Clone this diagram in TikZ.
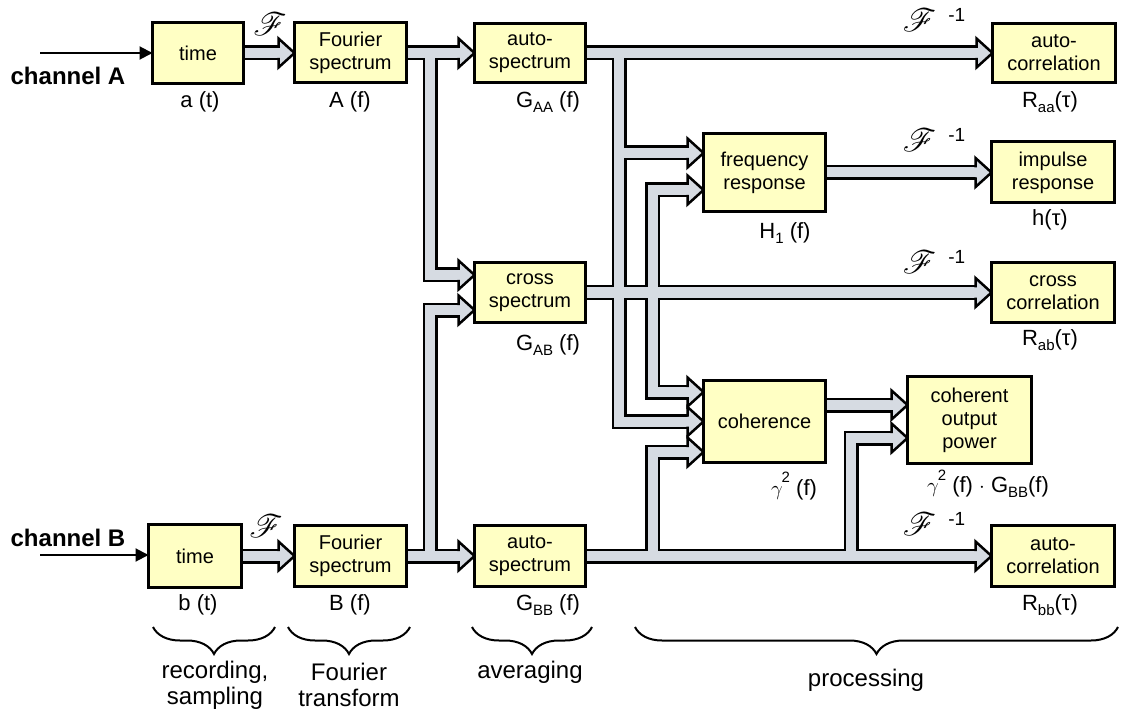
\documentclass[tikz,border=0pt]{standalone}
\usepackage{fontspec}
\setmainfont{Liberation Sans}
\usepackage{mathrsfs}
\usetikzlibrary{arrows.meta,calc,decorations.pathreplacing}
\pgfdeclarelayer{bg}
\pgfsetlayers{bg,main}
\definecolor{boxfill}{RGB}{255,255,196}
\definecolor{pipegray}{RGB}{214,219,226}
\newcommand\fF{\scalebox{1.3}{\ensuremath{\mathscr{F}}}}
\newcommand\subs[1]{\raisebox{-0.22em}{\fontsize{15}{15}\selectfont #1}}
\newcommand\supr[1]{\hspace{-1pt}\raisebox{0.55em}{\fontsize{15}{15}\selectfont #1}}
\newcommand\finv{\fF\hspace{12pt}\raisebox{10pt}{\fontsize{19}{19}\selectfont -1}}
\newcommand\ahead[1]{%
  \fill[pipegray] ($(#1)+(-16,-14.5)$) -- (#1) -- ($(#1)+(-16,14.5)$) -- cycle;
  \draw[line width=2.5pt, line join=miter] ($(#1)+(-16,-5)$) -- ($(#1)+(-16,-14.5)$) -- (#1) -- ($(#1)+(-16,14.5)$) -- ($(#1)+(-16,5)$);
}
\begin{document}
\begin{tikzpicture}[x=1pt,y=-1pt,
  blk/.style={draw, line width=3pt, fill=boxfill, inner sep=0pt, outer sep=0pt, align=center, font=\fontsize{20}{23}\selectfont},
  lbl/.style={inner sep=0pt, font=\fontsize{22}{26}\selectfont},
  chan/.style={inner sep=0pt, font=\bfseries\fontsize{24}{26}\selectfont},
  blab/.style={inner sep=0pt, align=center, font=\fontsize{24}{26}\selectfont},
  fl/.style={inner sep=0pt, font=\fontsize{24.88}{25}\selectfont},
  pipeout/.style={line width=15pt, draw=black, line join=miter, line cap=butt},
  pipein/.style={line width=10pt, draw=pipegray, line join=miter, line cap=butt},
  inarrow/.style={line width=2pt, -{Triangle[length=13pt,width=13pt]}},
  brace/.style={decorate, decoration={brace, mirror, amplitude=27pt, aspect=0.5}, line width=2pt}
]
\useasboundingbox (0,0) rectangle (1124,711);

% boxes
\node[blk, minimum width=91, minimum height=61] (tA) at (198,53) {time};
\node[blk, minimum width=112, minimum height=60] (fA) at (350.5,53) {Fourier\\spectrum};
\node[blk, minimum width=111, minimum height=59] (gAA) at (530,53) {auto-\\spectrum};
\node[blk, minimum width=111, minimum height=60] (gAB) at (530,292.5) {cross\\spectrum};
\node[blk, minimum width=93, minimum height=63] (tB) at (195,556) {time};
\node[blk, minimum width=112, minimum height=61] (fB) at (350.5,556) {Fourier\\spectrum};
\node[blk, minimum width=111, minimum height=61] (gBB) at (530,556) {auto-\\spectrum};
\node[blk, minimum width=122, minimum height=78] (H1) at (764.5,172.5) {frequency\\response};
\node[blk, minimum width=122, minimum height=82, text depth=-6pt] (coh) at (764.5,421.5) {coherence};
\node[blk, minimum width=124, minimum height=87] (cop) at (969.5,420) {coherent\\output\\power};
\node[blk, minimum width=123, minimum height=59] (Raa) at (1054,53) {auto-\\correlation};
\node[blk, minimum width=123, minimum height=61] (h) at (1053,172.5) {impulse\\response};
\node[blk, minimum width=123, minimum height=60] (Rab) at (1053,292.5) {cross\\correlation};
\node[blk, minimum width=123, minimum height=61] (Rbb) at (1053,556) {auto-\\correlation};

% channel inputs
\node[chan] (chA) at (68,76) {channel A};
\node[chan] (chB) at (68,538) {channel B};
\coordinate (inA) at (40,53);
\coordinate (inB) at (40,555);
\draw[inarrow] (inA) -- (tA.west);
\draw[inarrow] (inB) -- (tB.west |- inB);

% labels under boxes
\node[lbl] (lat) at (200,102) {a (t)};
\node[lbl] (lAf) at (350,102) {A (f)};
\node[lbl] (lGAA) at (548,102) {G\subs{AA} (f)};
\node[lbl] (lGAB) at (548,345) {G\subs{AB} (f)};
\node[lbl] (lH1) at (785,233) {H\subs{1} (f)};
\node[lbl] (lgam) at (794,486) {$\gamma$\supr{2} (f)};
\node[lbl] (lcop) at (988,484) {$\gamma$\supr{2} (f) $\cdot$ G\subs{BB}(f)};
\node[lbl] (lRaa) at (1050,102) {R\subs{aa}(τ)};
\node[lbl] (lh) at (1050,220) {h(τ)};
\node[lbl] (lRab) at (1050,340) {R\subs{ab}(τ)};
\node[lbl] (lRbb) at (1050,605) {R\subs{bb}(τ)};
\node[lbl] (lbt) at (198,605) {b (t)};
\node[lbl] (lBf) at (350,605) {B (f)};
\node[lbl] (lGBB) at (548,605) {G\subs{BB} (f)};

% transform symbols
\node[fl] (FA) at (270,24) {\fF};
\node[fl] (FB) at (266,526) {\fF};
\node[fl] (FiA) at (934,20) {\finv};
\node[fl] (FiH) at (934,140) {\finv};
\node[fl] (FiX) at (934,262) {\finv};
\node[fl] (FiB) at (934,524) {\finv};

% junction columns and inputs
\coordinate (xA) at (430,0);
\coordinate (xG) at (619,0);
\coordinate (xX) at (652.5,0);
\coordinate (xP) at (851,0);
\coordinate (inAB1) at ($(gAB.west)+(0,-17.5)$);
\coordinate (inAB2) at ($(gAB.west)+(0,17.5)$);
\coordinate (inH1a) at ($(H1.west)+(0,-19.5)$);
\coordinate (inH1b) at ($(H1.west)+(0,17.5)$);
\coordinate (inCoh1) at ($(coh.west)+(0,-29.5)$);
\coordinate (inCoh2) at ($(coh.west)+(0,0)$);
\coordinate (inCoh3) at ($(coh.west)+(0,30.5)$);
\coordinate (inCop1) at ($(cop.west)+(0,-15)$);
\coordinate (inCop2) at ($(cop.west)+(0,18)$);

\def\pipes{%
 (tA.east) -- ([xshift=-16pt]fA.west)
 (tB.east) -- ([xshift=-16pt]fB.west)
 (fA.east) -- ([xshift=-16pt]gAA.west)
 (fB.east) -- ([xshift=-16pt]gBB.west)
 (xA |- fA.east) -- (xA |- inAB1) -- ([xshift=-16pt]inAB1)
 (xA |- fB.east) -- (xA |- inAB2) -- ([xshift=-16pt]inAB2)
 (gAA.east) -- ([xshift=-16pt]Raa.west)
 (xG |- gAA.east) -- (xG |- inCoh2) -- ([xshift=-16pt]inCoh2)
 (xG |- inH1a) -- ([xshift=-16pt]inH1a)
 (gAB.east) -- ([xshift=-16pt]Rab.west)
 ([xshift=-16pt]inH1b) -- (xX |- inH1b) -- (xX |- inCoh1) -- ([xshift=-16pt]inCoh1)
 (gBB.east) -- ([xshift=-16pt]Rbb.west)
 (xX |- gBB.east) -- (xX |- inCoh3) -- ([xshift=-16pt]inCoh3)
 (xP |- gBB.east) -- (xP |- inCop2) -- ([xshift=-16pt]inCop2)
 (coh.east |- inCop1) -- ([xshift=-16pt]inCop1)
 (H1.east) -- ([xshift=-16pt]h.west)
}

\begin{pgfonlayer}{bg}
\draw[pipeout] \pipes;
\draw[pipein] \pipes;
\ahead{fA.west}
\ahead{fB.west}
\ahead{gAA.west}
\ahead{gBB.west}
\ahead{inAB1}
\ahead{inAB2}
\ahead{Raa.west}
\ahead{inH1a}
\ahead{inH1b}
\ahead{h.west}
\ahead{Rab.west}
\ahead{inCoh1}
\ahead{inCoh2}
\ahead{inCoh3}
\ahead{inCop1}
\ahead{inCop2}
\ahead{Rbb.west}
\end{pgfonlayer}

% braces
\draw[brace] (153,627) -- (275,627);
\draw[brace] (288,627) -- (410,627);
\draw[brace] (472,627) -- (592,627);
\draw[brace] (635,627) -- (1118,627);
\node[blab] (b1) at (215,685) {recording,\\sampling};
\node[blab] (b2) at (349,685) {Fourier\\transform};
\node[blab] (b3) at (530,672) {averaging};
\node[blab] (b4) at (866,680) {processing};
\end{tikzpicture}
\end{document}
